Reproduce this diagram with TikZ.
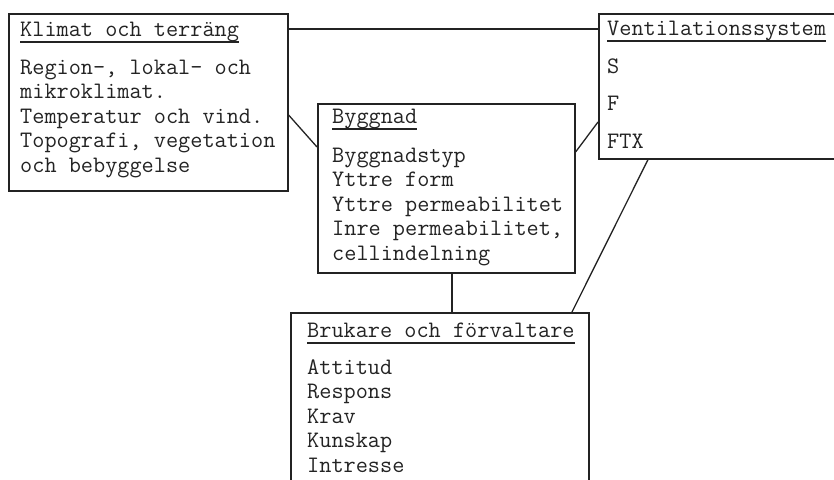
\documentclass[tikz,border=0pt]{standalone}
\usepackage{fontspec}
\usetikzlibrary{positioning}

\tikzset{
  box/.style={draw=ink, line width=1.6pt, anchor=north west, inner sep=0pt},
  ttl/.style={anchor=base west, inner sep=0pt, font=\ttfamily\fontsize{23.6}{24.5}\selectfont},
  txt/.style={ttl, align=left},
  uline/.style={draw=ink, line width=1.1pt},
  link/.style={draw=ink, line width=1.3pt}
}
\definecolor{ink}{RGB}{35,35,35}

\begin{document}
\begin{tikzpicture}[x=1pt, y=-1pt, text=ink]
    \clip (0,0) rectangle (834,479);
    \useasboundingbox (0,0) rectangle (834,479);

    % boxes
    \node[box, minimum width=279pt, minimum height=177pt] (klimat) at (8,13) {};
    \node[box, minimum width=257pt, minimum height=169pt] (bygg) at (317,103) {};
    \node[box, minimum width=245pt, minimum height=145pt] (vent) at (598,13) {};
    \node[box, minimum width=298pt, minimum height=185pt] (bruk) at (290,312) {};

    % titles
    \node[ttl] (kt) at (20,36) {Klimat och terräng};
    \node[ttl] (bt) at (332,123) {Byggnad};
    \node[ttl] (vt) at (607,35) {Ventilationssystem};
    \node[ttl] (ut) at (307,337) {Brukare och förvaltare};

    \foreach \t in {kt,bt,vt,ut}
        \draw[uline] ([yshift=-6pt]\t.base west) -- ([yshift=-6pt]\t.base east);

    % contents (placed at the baseline of the last line)
    \node[txt] (kb) at (20,172) {Region-, lokal- och\\mikroklimat.\\Temperatur och vind.\\Topografi, vegetation\\och bebyggelse};
    \node[txt] (bb) at (332,260) {Byggnadstyp\\Yttre form\\Yttre permeabilitet\\Inre permeabilitet,\\cellindelning};
    \node[txt] (vb) at (607,148) {S\\[13pt]F\\[13pt]FTX};
    \node[txt] (ub) at (307,472) {Attitud\\Respons\\Krav\\Kunskap\\Intresse};

    % connections
    \draw[link] ([yshift=-16pt]klimat.north east) -- ([yshift=-16pt]vent.north west);
    \draw[link] ([yshift=-102pt]klimat.north east) -- ([yshift=-44pt]bygg.north west);
    \draw[link] ([yshift=-49pt]bygg.north east) -- ([yshift=-109pt]vent.north west);
    \draw[link] ([xshift=135pt]bygg.south west) coordinate (bs) -- (bs |- bruk.north);
    \draw[link] ([xshift=50pt]vent.south west) -- ([xshift=282pt]bruk.north west);

\end{tikzpicture}
\end{document}
